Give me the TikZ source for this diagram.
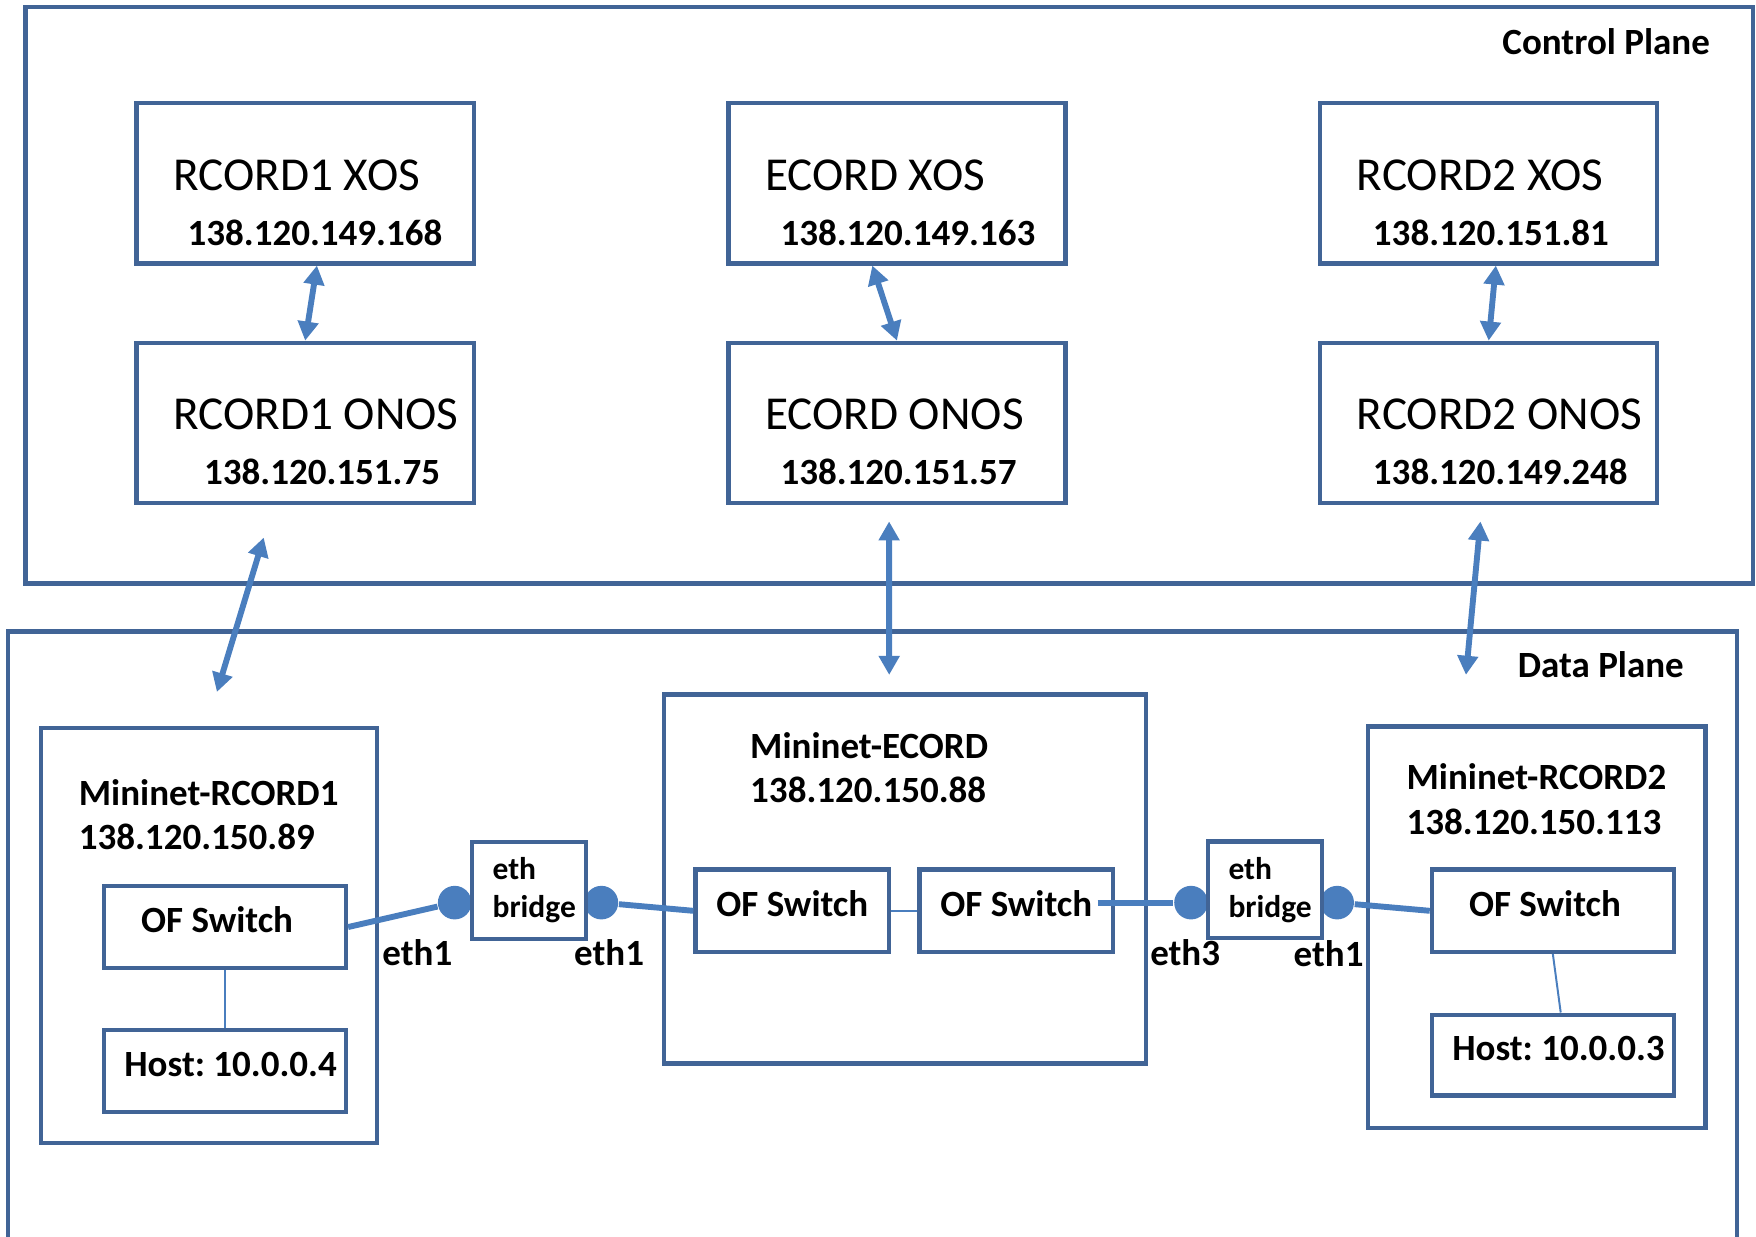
\documentclass[tikz,border=0pt]{standalone}
\usepackage{fontspec}
\setmainfont{Carlito}
\usetikzlibrary{arrows.meta,positioning}
\definecolor{frame}{RGB}{65,100,150}
\definecolor{link}{RGB}{74,126,190}
\tikzset{%
  plane/.style={draw=frame, line width=1.15pt},% control / data plane frame
  cordbox/.style={draw=frame, line width=1.1pt, fill=white,
    minimum width=3.01cm, minimum height=1.43cm},% XOS / ONOS boxes
  minibox/.style={draw=frame, line width=1.1pt},% mininet machines
  swbox/.style={draw=frame, line width=1.1pt, fill=white, inner xsep=1pt,
    minimum width=2.16cm, minimum height=0.735cm,
    font=\fontsize{9.4pt}{11pt}\selectfont\bfseries,
    text height=6.3pt, text depth=3.6pt},% switches and hosts
  brbox/.style={draw=frame, line width=1.1pt, fill=white, align=left,
    text width=0.65cm, minimum width=1.015cm, minimum height=0.865cm,
    font=\fontsize{8pt}{9.6pt}\selectfont\bfseries},% eth bridge
  port/.style={circle, fill=link, inner sep=0pt, minimum size=0.3cm},
  title/.style={anchor=west, inner sep=0pt, font=\fontsize{12pt}{14pt}\selectfont},
  lbl/.style={anchor=west, inner sep=0pt, font=\fontsize{9.4pt}{11pt}\selectfont\bfseries},
  ctrl/.style={link, line width=1.5pt,
    {Triangle[width=0.18cm,length=0.17cm]}-{Triangle[width=0.18cm,length=0.17cm]}},
  wire/.style={link, line width=1.5pt},
  thin/.style={link, line width=0.5pt}
}
% box with a title and an address under it
\newcommand*{\cordbox}[5]{%
  \node[cordbox] (#1) at (#2) {};
  \node[title] (#1-t) at ([xshift=0.34cm,yshift=0.075cm]#1.west) {#3};
  \node[lbl] (#1-ip) at ([xshift=#4,yshift=-0.44cm]#1.west) {#5};
}
\begin{document}
\frenchspacing
\begin{tikzpicture}
\useasboundingbox (0,0) rectangle (15.68,-11.04);

% planes
\node[plane, minimum width=15.426cm, minimum height=5.148cm] (cplane) at (7.939,-2.636) {};
\node[plane, minimum width=15.438cm, minimum height=5.66cm] (dplane) at (7.791,-8.47) {};
\node[lbl, anchor=west] (cplane-t) at (13.409,-0.369) {Control Plane};
\node[lbl, anchor=west] (dplane-t) at (13.547,-5.937) {Data Plane};

% control plane
\cordbox{xos1}{2.725,-1.637}{RCORD1 XOS}{0.468cm}{138.120.149.168}
\cordbox{onos1}{2.725,-3.776}{RCORD1 ONOS}{0.615cm}{138.120.151.75}
\cordbox{xose}{8.009,-1.637}{ECORD XOS}{0.478cm}{138.120.149.163}
\cordbox{onose}{8.009,-3.776}{ECORD ONOS}{0.478cm}{138.120.151.57}
\cordbox{xos2}{13.293,-1.637}{RCORD2 XOS}{0.484cm}{138.120.151.81}
\cordbox{onos2}{13.293,-3.776}{RCORD2 ONOS}{0.484cm}{138.120.149.248}

\draw[ctrl] ([xshift=0.105cm]xos1.south) -- (onos1.north);
\draw[ctrl] ([xshift=-0.22cm]xose.south) -- (onose.north);
\draw[ctrl] ([xshift=0.064cm]xos2.south) -- (onos2.north);

% data plane
\node[minibox, minimum width=3cm, minimum height=3.706cm] (mr1) at (1.867,-8.351) {};
\node[lbl] (mr1-t) at (0.697,-7.078) {Mininet-RCORD1};
\node[lbl] (mr1-ip) at (0.697,-7.469) {138.120.150.89};
\node[swbox] (sw1) at (2.009,-8.278) {OF Switch\hspace*{0.14cm}};
\node[swbox] (host1) at (2.009,-9.563) {\hspace*{0.1cm}Host: 10.0.0.4};

\node[minibox, minimum width=4.3cm, minimum height=3.297cm] (mecord) at (8.08,-7.849) {};
\node[lbl] (mecord-t) at (6.692,-6.654) {Mininet-ECORD};
\node[lbl] (mecord-ip) at (6.692,-7.05) {138.120.150.88};
\node[swbox, minimum width=1.73cm] (swa) at (7.075,-8.133) {OF Switch};
\node[swbox, minimum width=1.73cm] (swb) at (9.075,-8.133) {OF Switch};

\node[minibox, minimum width=3.01cm, minimum height=3.582cm] (mr2) at (13.723,-8.279) {};
\node[lbl] (mr2-t) at (12.553,-6.937) {Mininet-RCORD2};
\node[lbl] (mr2-ip) at (12.553,-7.335) {138.120.150.113};
\node[swbox] (sw2) at (13.866,-8.133) {OF Switch\hspace*{0.14cm}};
\node[swbox, minimum height=0.723cm] (host2) at (13.866,-9.422) {\hspace*{0.1cm}Host: 10.0.0.3};

\node[port] (d1) at (4.06,-8.06) {};
\node[port] (d2) at (5.37,-8.06) {};
\node[port] (d3) at (10.635,-8.06) {};
\node[port] (d4) at (11.94,-8.06) {};
\node[brbox] (br1) at (4.724,-7.95) {eth\\bridge};
\node[brbox] (br2) at (11.295,-7.946) {eth\\bridge};
\coordinate (swb-out) at (9.80,-8.06);

\draw[wire] (sw1.east) -- (d1);
\draw[wire] (d2) -- (swa.west);
\draw[wire] (swb-out) -- (d3);
\draw[wire] (d4) -- (sw2.west);
\draw[thin] (swa.east) -- (swb.west);
\draw[thin] (sw1.south) -- (host1.north);
\draw[thin] (sw2.south) -- ([xshift=0.07cm]host2.north);

\node[lbl] (e1) at (3.408,-8.51) {eth1};
\node[lbl] (e2) at (5.12,-8.51) {eth1};
\node[lbl] (e3) at (10.264,-8.51) {eth3};
\node[lbl] (e4) at (11.545,-8.52) {eth1};

% control <-> data
\draw[ctrl] ([xshift=-0.37cm,yshift=-0.29cm]onos1.south) -- ([xshift=0.07cm,yshift=0.30cm]mr1.north);
\draw[ctrl] ([xshift=-0.07cm,yshift=-0.146cm]onose.south) -- ([xshift=-0.14cm,yshift=0.155cm]mecord.north);
\draw[ctrl] ([xshift=-0.074cm,yshift=-0.146cm]onos2.south) -- ([xshift=-0.633cm,yshift=0.443cm]mr2.north);
\end{tikzpicture}
\end{document}
